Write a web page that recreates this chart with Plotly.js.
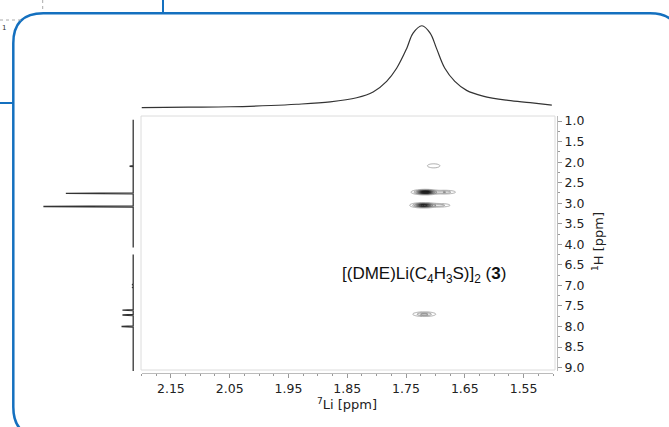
<!DOCTYPE html>
<html><head><meta charset="utf-8">
<script src="https://cdn.plot.ly/plotly-3.0.1.min.js"></script>
<style>html,body{margin:0;padding:0;background:#fff}#chart{width:669px;height:427px}</style>
</head><body><div id="chart"></div>
<script>
// ---- 7Li projection (top trace) ----
const liPpm = [2.200, 2.120, 2.049, 1.980, 1.936, 1.879, 1.834, 1.806, 1.783, 1.766, 1.749, 1.738, 1.723, 1.709, 1.698, 1.684, 1.667, 1.647, 1.619, 1.579, 1.539, 1.502];
const liInt = [0.00, 0.005, 0.01, 0.025, 0.04, 0.07, 0.12, 0.19, 0.32, 0.48, 0.72, 0.91, 1.00, 0.91, 0.72, 0.48, 0.32, 0.21, 0.14, 0.09, 0.06, 0.03];

// ---- 1H projection (left trace): peak shifts and heights ----
const hTopShift = [2.10, 2.76, 3.08];
const hTopHeight = [0.04, 0.75, 1.00];
const hBotShift = [6.98, 7.05, 7.60, 7.72, 8.00];
const hBotHeight = [0.012, 0.012, 0.12, 0.12, 0.13];

// ---- 2D cross peaks (7Li, 1H, amplitude, widths) ----
const cpLi  = [1.717, 1.684, 1.720, 1.692, 1.703, 1.719];
const cpH   = [2.73, 2.73, 3.05, 3.05, 2.09, 7.70];
const cpAmp = [1.00, 0.25, 0.85, 0.20, 0.12, 0.30];
const cpSx  = [0.010, 0.010, 0.010, 0.010, 0.008, 0.0103];
const cpSy  = [0.028, 0.025, 0.028, 0.025, 0.037, 0.030];

// ---- axis ticks ----
const yTopTicks = [1.0, 1.5, 2.0, 2.5, 3.0, 3.5, 4.0];
const yBotTicks = [6.5, 7.0, 7.5, 8.0, 8.5, 9.0];
const xTicks = [2.15, 2.05, 1.95, 1.85, 1.75, 1.65, 1.55];

// helpers: pixel -> paper
const W = 669, H = 427;
const px = v => v / W, py = v => 1 - v / H;

function stick(shifts, heights, start, end) {
  const ys = [start], xs = [0];
  shifts.forEach((s, i) => { ys.push(s - 0.012, s, s + 0.012); xs.push(0, heights[i], 0); });
  ys.push(end); xs.push(0);
  return {xs, ys};
}
const hTop = stick(hTopShift, hTopHeight, 0.97, 4.08);
const hBot = stick(hBotShift, hBotHeight, 6.2, 9.1);

function grid(y0, y1) {
  const xs = [], ys = [], z = [];
  for (let x = 1.60; x <= 1.80; x += 0.0015) xs.push(x);
  for (let y = y0; y <= y1; y += 0.004) ys.push(y);
  ys.forEach(y => {
    z.push(xs.map(x => {
      let s = 0;
      cpLi.forEach((c, i) => {
        s += cpAmp[i] * Math.exp(-0.5 * (((x - c) / cpSx[i]) ** 2 + ((y - cpH[i]) / cpSy[i]) ** 2));
      });
      return s;
    }));
  });
  return {xs, ys, z};
}
const gTop = grid(1.8, 3.4), gBot = grid(7.4, 8.0);

const lineCol = '#333';
const contourCommon = {
  type: 'contour', showscale: false, hoverinfo: 'skip',
  contours: {coloring: 'lines', start: 0.05, end: 1.0, size: 0.1},
  line: {width: 1},
  colorscale: [[0, '#a8a8a8'], [1, '#1a1a1a']], zmin: 0, zmax: 0.8, xaxis: 'x'
};

const traces = [
  {x: liPpm, y: liInt, xaxis: 'x', yaxis: 'y3', mode: 'lines', line: {color: lineCol, width: 1.2, shape: 'spline'}},
  {x: hTop.xs, y: hTop.ys, xaxis: 'x2', yaxis: 'y', mode: 'lines', line: {color: lineCol, width: 1.3}},
  {x: hBot.xs, y: hBot.ys, xaxis: 'x2', yaxis: 'y2', mode: 'lines', line: {color: lineCol, width: 1.3}},
  Object.assign({x: gTop.xs, y: gTop.ys, z: gTop.z, yaxis: 'y'}, contourCommon),
  Object.assign({x: gBot.xs, y: gBot.ys, z: gBot.z, yaxis: 'y2'}, contourCommon)
];

const tickFont = {family: 'DejaVu Sans, Verdana, sans-serif', size: 12.5, color: '#222'};
const yCommon = {
  anchor: 'free', position: px(557), side: 'right', showgrid: false, zeroline: false,
  showline: true, linecolor: '#bbb', linewidth: 1, ticks: 'outside', ticklen: 4, tickcolor: '#999',
  tickfont: tickFont, tickformat: '.1f', minor: {dtick: 0.25, ticks: 'outside', ticklen: 2, tickcolor: '#999'}
};
const blue = '#1470bf';
const frame = `M ${px(13.3)} ${py(407)} L ${px(13.3)} ${py(43.3)} Q ${px(13.3)} ${py(13.3)} ${px(43.3)} ${py(13.3)} ` +
  `L ${px(650)} ${py(13.3)} Q ${px(680)} ${py(13.3)} ${px(680)} ${py(43.3)} L ${px(680)} ${py(407)} ` +
  `Q ${px(680)} ${py(437)} ${px(650)} ${py(437)} L ${px(43.3)} ${py(437)} Q ${px(13.3)} ${py(437)} ${px(13.3)} ${py(407)} Z`;

const layout = {
  width: W, height: H, margin: {l: 0, r: 0, t: 0, b: 0}, showlegend: false,
  paper_bgcolor: '#fff', plot_bgcolor: 'rgba(0,0,0,0)',
  xaxis: {domain: [px(141.5), px(553)], range: [2.2, 1.5], anchor: 'free', position: py(373),
    showgrid: false, zeroline: false, showline: true, linecolor: '#bbb', ticks: 'outside', ticklen: 4,
    tickcolor: '#999', tickvals: xTicks, ticktext: xTicks.map(v => v.toFixed(2)), tickfont: tickFont,
    minor: {dtick: 0.025, tick0: 1.55, ticks: 'outside', ticklen: 2, tickcolor: '#999'}},
  yaxis: Object.assign({domain: [py(254.6), py(116.1)], range: [4.25, 0.88], tickvals: yTopTicks}, yCommon),
  yaxis2: Object.assign({domain: [py(370.9), py(254.6)], range: [9.08, 6.25], tickvals: yBotTicks}, yCommon),
  yaxis3: {domain: [py(110), py(20)], range: [-0.03, 1.07], anchor: 'x', visible: false},
  xaxis2: {domain: [px(38), px(135)], range: [1.06, -0.02], anchor: 'y', visible: false},
  shapes: [
    {type: 'rect', xref: 'paper', yref: 'paper', x0: px(141), x1: px(555), y0: py(370), y1: py(116),
      line: {color: '#dcdcdc', width: 1}, layer: 'below'},
    {type: 'path', xref: 'paper', yref: 'paper', path: frame, line: {color: blue, width: 2.5}},
    {type: 'line', xref: 'paper', yref: 'paper', x0: px(163), x1: px(163), y0: py(0), y1: py(13), line: {color: blue, width: 2}},
    {type: 'line', xref: 'paper', yref: 'paper', x0: px(0), x1: px(13), y0: py(103), y1: py(103), line: {color: blue, width: 2}},
    {type: 'line', xref: 'paper', yref: 'paper', x0: px(0), x1: px(22), y0: py(20), y1: py(20), line: {color: '#aaa', width: 1, dash: 'dot'}},
    {type: 'line', xref: 'paper', yref: 'paper', x0: px(42.7), x1: px(42.7), y0: py(0), y1: py(12), line: {color: '#aaa', width: 1, dash: 'dot'}}
  ],
  annotations: [
    {xref: 'paper', yref: 'paper', x: px(347), y: py(404), xanchor: 'center', yanchor: 'middle',
      text: '<sup>7</sup>Li [ppm]', showarrow: false,
      font: {family: 'DejaVu Sans, Verdana, sans-serif', size: 13, color: '#222'}},
    {xref: 'paper', yref: 'paper', x: px(598), y: py(242), xanchor: 'center', yanchor: 'middle',
      text: '<sup>1</sup>H [ppm]', showarrow: false, textangle: -90,
      font: {family: 'DejaVu Sans, Verdana, sans-serif', size: 13, color: '#222'}},
    {xref: 'paper', yref: 'paper', x: px(424), y: py(275), xanchor: 'center', yanchor: 'middle',
      text: '[(DME)Li(C<sub>4</sub>H<sub>3</sub>S)]<sub>2</sub> (<b>3</b>)',
      showarrow: false, font: {family: 'Liberation Sans, Arial, sans-serif', size: 17, color: '#111'}},
    {xref: 'paper', yref: 'paper', x: px(4), y: py(28), xanchor: 'center', yanchor: 'middle', text: '1', showarrow: false,
      font: {family: 'DejaVu Sans, sans-serif', size: 7, color: '#333'}}
  ]
};

Plotly.newPlot('chart', traces, layout, {staticPlot: true, displayModeBar: false});
</script>
</body></html>
